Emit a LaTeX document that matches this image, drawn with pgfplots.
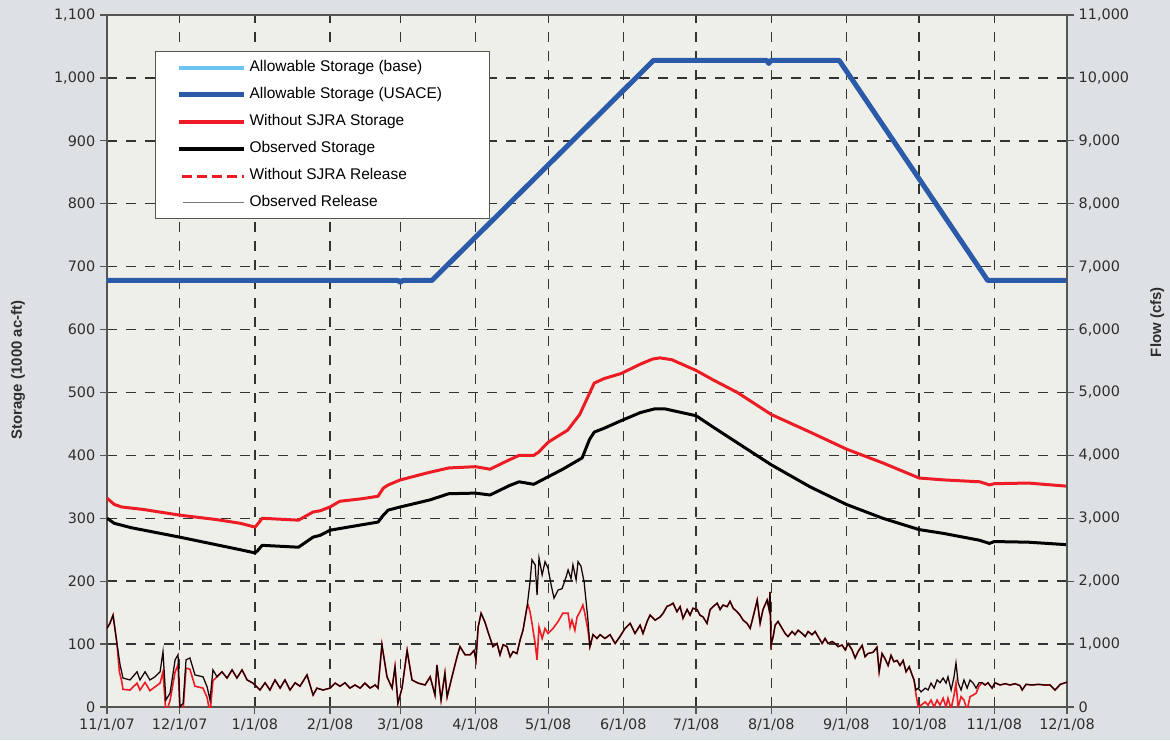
\documentclass[border=0pt]{standalone}
\usepackage{fontspec}
\setmainfont{Liberation Sans}
\newfontfamily\tickfont{DejaVu Sans}
\usepackage{pgfplots}
\pgfplotsset{compat=1.18}
\definecolor{bgout}{HTML}{DDE1E4}
\definecolor{plotbg}{HTML}{EFEFEA}
\definecolor{usace}{HTML}{2B5BA8}
\definecolor{basec}{HTML}{6CC5EE}
\definecolor{redc}{HTML}{ED1C24}
\definecolor{axisc}{HTML}{555555}
\definecolor{gridc}{HTML}{333333}
\definecolor{textc}{HTML}{2E2E2E}
\definecolor{relgray}{HTML}{777777}
\pgfplotsset{
  common/.style={
    width=720pt, height=519pt, scale only axis,
    at={(0,0)}, anchor=south west,
    xmin=0, xmax=396,
    tick align=outside,
    major tick length=5.25pt,
    tick style={draw=axisc, line width=0.9pt},
    axis line style={draw=axisc, line width=1pt},
    scaled y ticks=false,
    /pgf/number format/1000 sep={,},
    /pgf/number format/assume math mode=true,
    tick label style={font=\tickfont\fontsize{10.8}{13}\selectfont, text=textc},
  }
}
\begin{document}
\begin{tikzpicture}
\path[use as bounding box] (-80.25pt,-24.75pt) rectangle (797.25pt,530.25pt);
\fill[bgout] (-80.25pt,-24.75pt) rectangle (797.25pt,530.25pt);
\begin{axis}[common,
  ymin=0, ymax=1100, ytick={0,100,...,1100},
  xtick={0,30,61,92,121,152,182,213,243,274,305,335,366,396},
  xticklabels={11/1/07,12/1/07,1/1/08,2/1/08,3/1/08,4/1/08,5/1/08,6/1/08,7/1/08,8/1/08,9/1/08,10/1/08,11/1/08,12/1/08},
  tick pos=left,
  grid=major,
  major grid style={dash pattern=on 7.5pt off 6.75pt, draw=gridc, line width=1.05pt},
  axis background/.style={fill=plotbg},
  ylabel={Storage (1000 ac-ft)},
  every axis y label/.style={at={(axis description cs:-0.0927,0.487)}, rotate=90, anchor=center,
    font=\bfseries\fontsize{11.2}{13}\selectfont, text=textc},
]
\addplot[basec, line width=3pt] coordinates {(0,678)(134,678)(225.5,1028)(302,1028)(363.3,678)(396,678)};
\addplot[usace, line width=3.75pt, line join=round] coordinates {(0,678)(120,678)(121,675)(122,678)(134,678)(225.5,1028)(272,1028)(273,1023)(274,1028)(302,1028)(363.3,678)(396,678)};
\addplot[redc, line width=2.25pt, line join=round] coordinates {(0,332)(3,322)(6,318)(15,314)(30,305)(45,298)(55,292)(61,286)(62,290)(64,300)(79,297)(85,310)(88,312)(92,318)(96,327)(105,331)(111.8,335)(114,348)(116,353)(121,361)(133,373)(141,380)(152,382)(158,378)(166,393)(170,400)(176,400)(178,405)(182,421)(190,440)(195,465)(198,490)(201,515)(205,522)(212,530)(220,545)(225,553)(228,555)(233,552)(243,535)(250,520)(260,500)(274,465)(290,437)(305,410)(320,388)(335,364)(345,361)(360,358)(364,353)(366,355)(380,356)(396,351)};
\addplot[black, line width=2.25pt, line join=round] coordinates {(0,300)(3,292)(10,285)(30,270)(45,258)(55,250)(61,245)(62,248)(64,257)(79,254)(85,270)(88,273)(92,281)(98,285)(111.8,294)(114,305)(116,313)(121,318)(133,329)(141,339)(152,340)(158,337)(166,352)(170,358)(176,354)(182,366)(188,378)(196,396)(199,425)(201,437)(205,443)(212,455)(220,468)(226,474)(230,474)(243,463)(250,445)(260,420)(274,385)(290,350)(305,322)(320,300)(335,282)(345,276)(360,265)(364,260)(366,263)(380,262)(396,258)};
\end{axis}
\begin{axis}[common,
  ymin=0, ymax=11000, ytick={0,1000,...,11000},
  axis y line*=right, axis x line=none,
  ylabel={Flow (cfs)},
  every axis y label/.style={at={(axis description cs:1.094,0.556)}, rotate=90, anchor=center,
    font=\bfseries\fontsize{11.2}{13}\selectfont, text=textc},
  legend cell align=left,
  legend style={at={(axis description cs:0.05,0.948)}, anchor=north west,
    draw=axisc, line width=0.9pt, fill=white, inner xsep=16pt, inner ysep=2pt,
    row sep=0pt,
    nodes={font=\fontsize{11.6}{13}\selectfont, text height=8.4pt, text depth=2.6pt, inner ysep=4.6pt, inner xsep=2pt}},
]
\addlegendimage{legend image code/.code={\draw[draw=basec, line width=3pt] (0pt,0pt) -- (48.75pt,0pt);}}
\addlegendentry{\makebox[162pt][l]{Allowable Storage (base)}}
\addlegendimage{legend image code/.code={\draw[draw=usace, line width=3.75pt] (0pt,0pt) -- (48.75pt,0pt);}}
\addlegendentry{Allowable Storage (USACE)}
\addlegendimage{legend image code/.code={\draw[draw=redc, line width=3pt] (0pt,0pt) -- (48.75pt,0pt);}}
\addlegendentry{Without SJRA Storage}
\addlegendimage{legend image code/.code={\draw[draw=black, line width=3pt] (0pt,0pt) -- (48.75pt,0pt);}}
\addlegendentry{Observed Storage}
\addlegendimage{legend image code/.code={\draw[draw=redc, line width=1.7pt, dash pattern=on 7.5pt off 3.75pt] (2pt,-0.75pt) -- (48.75pt,-0.75pt);}}
\addlegendentry{Without SJRA Release}
\addlegendimage{legend image code/.code={\draw[draw=relgray, line width=1.2pt] (2.5pt,0pt) -- (48.75pt,0pt);}}
\addlegendentry{Observed Release}
\addplot[redc, line width=1.2pt, forget plot] coordinates {
(0,1250)(1.2,1330)(2.5,1460)(4.1,1010)(5.1,560)(6,420)(6.6,280)(9.5,270)(12.4,380)(13.6,270)(15.7,390)(17.7,260)(19.8,320)(21.9,380)(23.1,560)(24.3,-100)(26,100)(28.1,560)(29.3,670)(30.1,-100)(31.4,-50)(32.6,620)(34.2,600)(36.3,330)(39.6,300)(41.3,150)(42.5,-100)(43.7,420)(45.4,480)
(47.4,560)(49.5,460)(51.6,590)(53.6,460)(55.7,590)(57.8,430)(60.2,380)(63.1,270)(65.2,385)(67.2,270)(69.3,430)(71.4,300)(73.4,430)(75.5,270)(77.6,385)(79.6,330)(82.5,510)(85,190)(86.6,300)(89.1,270)(92,300)(94.1,380)(96.1,330)(98.2,385)(100.2,300)(102.3,350)(104.4,300)(106.4,380)(108.5,300)(110.6,350)(111.8,300)(113.4,990)(115.5,480)(117.6,300)(118.8,640)(120,60)(121.7,300)(123.8,900)(125.8,430)(128.3,380)(131.2,350)(133.3,480)(135.3,190)(136.1,670)(137.8,110)(139.4,540)(140.3,160)(142.3,480)(144.4,800)(145.6,960)(147.7,830)(149.8,830)(151.4,900)(152.2,750)(153.1,1270)(154.3,1490)(155.9,1350)(157.2,1190)(159.2,960)(160.9,1010)(162.1,830)(163.4,990)(165,960)(166.3,800)(167.5,880)(169.1,850)(170.4,1065)(171.6,1220)
(173.3,1600)(173.7,1620)(174.5,1515)(175.3,1330)(176.6,1010)(177.4,750)(178.2,1270)(179.5,1090)(180.7,1250)(181.9,1170)(184,1250)(186.1,1360)(188,1490)(190.2,1490)(191,1270)(191.8,1380)(193,1220)(193.9,1430)(195.1,1515)(196.3,1620)(197.1,1490)(198.4,1220)
(199.2,960)(200.5,1150)(202.1,1090)(203.4,1150)(205.4,1090)(207.5,1150)(209.6,1010)(211.6,1120)(213.7,1250)(215.8,1330)(217.8,1170)(219.9,1300)(221.1,1170)(222.8,1360)(224,1460)(226.1,1380)(228.1,1430)(229.4,1490)(231,1600)(232.3,1620)(233.5,1650)(235.1,1515)(236.4,1595)(237.6,1410)(239.3,1550)(240.5,1460)(241.7,1570)(243.4,1550)(244.6,1460)(245.9,1430)(247.5,1330)(248.8,1550)(250,1595)(251.7,1650)(252.9,1550)(254.1,1620)(255.8,1595)(257,1680)(258.3,1570)(259.9,1515)(261.1,1460)(262.4,1380)(264,1330)(265.3,1250)(266.5,1430)(268.2,1700)(269.4,1330)(270.6,1550)(272.3,1700)(273.1,1550)(273.5,1830)(273.9,985)(274.8,1120)(275.6,1300)(276.8,1360)(278.1,1275)(279.7,1170)(280.9,1120)(282.6,1200)(283.8,1150)(285.1,1220)(286.7,1170)(288,1120)(289.2,1200)(290.8,1150)(292.1,1200)(293.3,1120)(295,1010)(296.2,1090)(297.4,1010)(299.1,1040)(300.3,1010)(301.6,960)(303.2,985)(304.5,908)(305.7,1010)(307.3,910)(308.6,780)(309.8,880)(311.5,980)(312.7,800)(313.9,850)(316,870)(317.6,950)(318.5,560)(319.7,850)(320.9,770)(322.2,660)(323.4,820)(324.6,720)(325.9,740)(327.1,660)(328.4,740)(329.6,560)(330.9,640)(332.1,510)
(332.9,430)(333.7,200)(334.6,0)(335.8,30)(337.5,80)(338.7,30)(339.9,110)(341.2,0)(342.4,110)(343.6,30)(344.9,140)(346.1,0)(346.9,140)(348.2,-30)(349.4,190)(350.2,380)(351.1,0)(352.3,165)(353.5,110)(354.8,-50)(356,165)(357.3,190)(358.5,220)(359.7,330)
(361,385)(362.2,350)(363.4,385)(365.1,300)(366.3,385)(368.4,350)(370.5,370)(372.5,350)(374.6,370)(376.6,340)(377.5,270)(379.1,360)(381.6,350)(384.2,360)(386.6,350)(389,350)(391.1,270)(393.2,360)(396,395)
};
\addplot[black!90!redc, line width=0.95pt, forget plot] coordinates {
(0,1250)(1.2,1330)(2.5,1460)(4.1,1010)(5.4,670)(6.6,460)(9.5,430)(12.4,560)(13.6,430)(15.7,560)(17.7,430)(19.8,480)(21.9,560)(23.1,880)(24.3,110)(26,220)(28.1,750)(29.3,830)(30.1,0)(31.4,60)(32.6,750)(34.2,780)(36.3,510)(39.6,480)(41.3,320)(42.5,110)(43.7,590)(45.4,480)
(47.4,560)(49.5,460)(51.6,590)(53.6,460)(55.7,590)(57.8,430)(60.2,380)(63.1,270)(65.2,385)(67.2,270)(69.3,430)(71.4,300)(73.4,430)(75.5,270)(77.6,385)(79.6,330)(82.5,510)(85,190)(86.6,300)(89.1,270)(92,300)(94.1,380)(96.1,330)(98.2,385)(100.2,300)(102.3,350)(104.4,300)(106.4,380)(108.5,300)(110.6,350)(111.8,300)(113.4,990)(115.5,480)(117.6,300)(118.8,640)(120,60)(121.7,300)(123.8,900)(125.8,430)(128.3,380)(131.2,350)(133.3,480)(135.3,190)(136.1,670)(137.8,110)(139.4,540)(140.3,160)(142.3,480)(144.4,800)(145.6,960)(147.7,830)(149.8,830)(151.4,900)(152.2,750)(153.1,1270)(154.3,1490)(155.9,1350)(157.2,1190)(159.2,960)(160.9,1010)(162.1,830)(163.4,990)(165,960)(166.3,800)(167.5,880)(169.1,850)(170.4,1065)(171.6,1220)
(173.3,1600)(174.5,1990)(175.3,2340)(176.6,2260)(177.4,1780)(178.2,2370)(179.5,2100)(180.7,2310)(181.9,2210)(183.2,1940)(184.4,1730)(186.1,1860)(187.7,1880)(189.4,2070)(190.2,2180)(191.4,2040)(192.2,2260)(193.5,2020)(194.3,2310)(195.5,2240)(196.8,1990)(198.4,1380)
(199.2,960)(200.5,1150)(202.1,1090)(203.4,1150)(205.4,1090)(207.5,1150)(209.6,1010)(211.6,1120)(213.7,1250)(215.8,1330)(217.8,1170)(219.9,1300)(221.1,1170)(222.8,1360)(224,1460)(226.1,1380)(228.1,1430)(229.4,1490)(231,1600)(232.3,1620)(233.5,1650)(235.1,1515)(236.4,1595)(237.6,1410)(239.3,1550)(240.5,1460)(241.7,1570)(243.4,1550)(244.6,1460)(245.9,1430)(247.5,1330)(248.8,1550)(250,1595)(251.7,1650)(252.9,1550)(254.1,1620)(255.8,1595)(257,1680)(258.3,1570)(259.9,1515)(261.1,1460)(262.4,1380)(264,1330)(265.3,1250)(266.5,1430)(268.2,1700)(269.4,1330)(270.6,1550)(272.3,1700)(273.1,1550)(273.5,1830)(273.9,985)(274.8,1120)(275.6,1300)(276.8,1360)(278.1,1275)(279.7,1170)(280.9,1120)(282.6,1200)(283.8,1150)(285.1,1220)(286.7,1170)(288,1120)(289.2,1200)(290.8,1150)(292.1,1200)(293.3,1120)(295,1010)(296.2,1090)(297.4,1010)(299.1,1040)(300.3,1010)(301.6,960)(303.2,985)(304.5,908)(305.7,1010)(307.3,910)(308.6,780)(309.8,880)(311.5,980)(312.7,800)(313.9,850)(316,870)(317.6,950)(318.5,560)(319.7,850)(320.9,770)(322.2,660)(323.4,820)(324.6,720)(325.9,740)(327.1,660)(328.4,740)(329.6,560)(330.9,640)(332.1,510)
(332.9,430)(333.7,270)(334.6,300)(335.8,240)(337.5,300)(338.7,270)(339.9,380)(341.2,300)(342.4,430)(343.6,385)(344.9,460)(346.1,380)(346.9,480)(348.2,270)(349.4,480)(350.2,700)(351.1,385)(352.3,270)(353.5,430)(354.8,300)(356,430)(357.3,380)(358.5,300)(359.7,385)
(361,385)(362.2,350)(363.4,385)(365.1,300)(366.3,385)(368.4,350)(370.5,370)(372.5,350)(374.6,370)(376.6,340)(377.5,270)(379.1,360)(381.6,350)(384.2,360)(386.6,350)(389,350)(391.1,270)(393.2,360)(396,395)
};
\end{axis}
\end{tikzpicture}
\end{document}
